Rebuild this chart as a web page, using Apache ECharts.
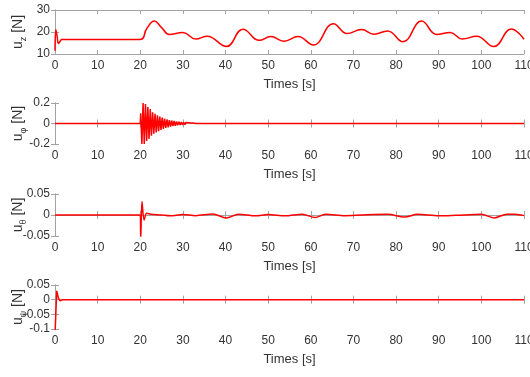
<!DOCTYPE html>
<html>
<head>
    <meta charset="utf-8">
    <title>控制输入 u</title>
    <script src="https://cdn.jsdelivr.net/npm/echarts@6/dist/echarts.min.js"></script>
</head>
<body style="margin:0;background:#fff;">
    <div id="main" style="width:530px;height:377px;"></div>
    <script type="text/javascript">
        // u_z (N)
        var uzT = [0, 0.2, 0.5, 0.8, 1.2, 1.6, 2.0, 20.0, 21.5, 23.3, 25.0, 26.8, 30.0, 33.0, 35.7, 40.2, 44.1, 47.9, 50.6, 53.7, 57.0, 60.6, 65.3, 68.5, 71.9, 74.8, 78.0, 81.6, 86.0, 89.5, 92.7, 95.5, 98.9, 102.9, 107.0, 110];
        var uzV = [11.5, 21, 18, 14.8, 15.8, 16.6, 16.6, 16.6, 21.5, 25.0, 22.0, 18.9, 19.8, 16.8, 18.1, 13.4, 21.3, 16.2, 17.9, 15.8, 17.9, 14.1, 23.8, 19.3, 21.1, 19.0, 20.5, 15.6, 25.0, 18.9, 19.8, 16.8, 18.1, 13.4, 21.4, 16.7];

        // u_phi (N)
        var uphiT = [0, 20.0, 20.10, 20.38, 20.66, 20.94, 21.22, 21.50, 21.78, 22.06, 22.34, 22.62, 22.90, 23.18, 23.46, 23.74, 24.02, 24.30, 24.58, 24.86, 25.14, 25.42, 25.70, 25.98, 26.26, 26.54, 26.82, 27.10, 27.38, 27.66, 27.94, 28.22, 28.50, 28.78, 29.06, 29.34, 29.62, 29.90, 30.18, 30.46, 30.74, 31.02, 31.30, 31.58, 31.86, 32.14, 32.42, 32.70, 33.0, 110];
        var uphiV = [0, 0, 0.10, -0.20, 0.20, -0.20, 0.19, -0.17, 0.16, -0.15, 0.14, -0.12, 0.11, -0.10, 0.095, -0.088, 0.080, -0.074, 0.068, -0.062, 0.057, -0.052, 0.048, -0.044, 0.040, -0.037, 0.034, -0.031, 0.029, -0.026, 0.024, -0.022, 0.020, -0.018, 0.017, -0.015, 0.014, -0.013, 0.012, -0.011, 0.010, -0.009, 0.008, -0.007, 0.006, -0.006, 0.005, -0.004, 0, 0];

        // u_theta (N)
        var uthT = [0, 20.0, 20.1, 20.4, 20.9, 21.5, 22.5, 25, 27, 30, 33, 37, 40.2, 43, 47, 50, 54, 58, 61, 63.5, 68, 72, 78, 82, 85, 90, 94, 100, 103, 106, 108, 110];
        var uthV = [0, 0, -0.06, 0.032, -0.012, 0.004, 0.002, 0.0, -0.002, 0.001, -0.0015, 0.0024, -0.007, 0.002, -0.002, 0.001, -0.002, 0.002, -0.006, 0.002, -0.0015, 0, 0.0015, -0.005, 0.0015, -0.002, -0.0008, 0.0015, -0.007, 0.002, 0.0015, -0.0015];

        // u_psi (N)
        var upsT = [0, 0.4, 0.8, 1.2, 1.8, 110];
        var upsV = [-0.12, 0.03, 0.005, -0.004, 0, 0];

        var font = 'Liberation Sans, Arial, sans-serif';
        var txt = '#333';
        var box = '#a3a3a3';

        function pairs(t, v) {
            var out = [];
            for (var i = 0; i < t.length; i++) out.push([t[i], v[i]]);
            return out;
        }

        var panels = [
            {top: 10, height: 44, min: 10, max: 30, step: 10, sub: 'z', t: uzT, v: uzV, smooth: 0.45},
            {top: 103, height: 41, min: -0.2, max: 0.2, step: 0.2, sub: 'φ', t: uphiT, v: uphiV, smooth: false},
            {top: 194, height: 42, min: -0.05, max: 0.05, step: 0.05, sub: 'θ', t: uthT, v: uthV, smooth: 0.3},
            {top: 285, height: 44, min: -0.1, max: 0.05, step: 0.05, sub: 'ψ', t: upsT, v: upsV, smooth: false}
        ];

        var option = {
            animation: false,
            backgroundColor: '#fff',
            grid: [], xAxis: [], yAxis: [], series: []
        };

        panels.forEach(function (p, i) {
            option.grid.push({left: 55, right: 6, top: p.top, height: p.height,
                containLabel: false, outerBoundsMode: 'none'});
            var tick = {show: true, inside: true, length: 4, lineStyle: {color: box}};
            var line = {show: true, lineStyle: {color: box, width: 1}};
            option.xAxis.push({
                type: 'value', gridIndex: i, min: 0, max: 110, interval: 10,
                position: 'bottom', axisLine: line, axisTick: tick, splitLine: {show: false},
                axisLabel: {color: txt, fontSize: 12, fontFamily: font, margin: 6},
                name: 'Times [s]', nameLocation: 'middle', nameGap: 24, nameMoveOverlap: false,
                nameTextStyle: {color: txt, fontSize: 13, fontFamily: font}
            });
            option.xAxis.push({
                type: 'value', gridIndex: i, min: 0, max: 110, interval: 10,
                position: 'top', axisLine: line, axisTick: tick, splitLine: {show: false},
                axisLabel: {show: false}
            });
            option.yAxis.push({
                type: 'value', gridIndex: i, min: p.min, max: p.max, interval: p.step,
                position: 'left', axisLine: line, axisTick: tick, splitLine: {show: false},
                axisLabel: {color: txt, fontSize: 12, fontFamily: font, margin: 5},
                name: '{m|u}{s|' + p.sub + '}{m| [N]}', nameLocation: 'middle', nameRotate: 90,
                nameGap: 27, nameMoveOverlap: false,
                nameTextStyle: {
                    rich: {
                        m: {fontSize: 14, color: txt, fontFamily: font, lineHeight: 20},
                        s: {fontSize: 9, color: txt, fontFamily: font, lineHeight: 10, verticalAlign: 'bottom'}
                    }
                }
            });
            option.yAxis.push({
                type: 'value', gridIndex: i, min: p.min, max: p.max, interval: p.step,
                position: 'right', axisLine: line, axisTick: tick, splitLine: {show: false},
                axisLabel: {show: false}
            });
            option.series.push({
                type: 'line', xAxisIndex: 2 * i, yAxisIndex: 2 * i,
                data: pairs(p.t, p.v), showSymbol: false, smooth: p.smooth,
                lineStyle: {color: '#ff0000', width: 1.5}, clip: true
            });
        });

        var myChart = echarts.init(document.getElementById('main'));
        myChart.setOption(option);
    </script>
</body>
</html>
